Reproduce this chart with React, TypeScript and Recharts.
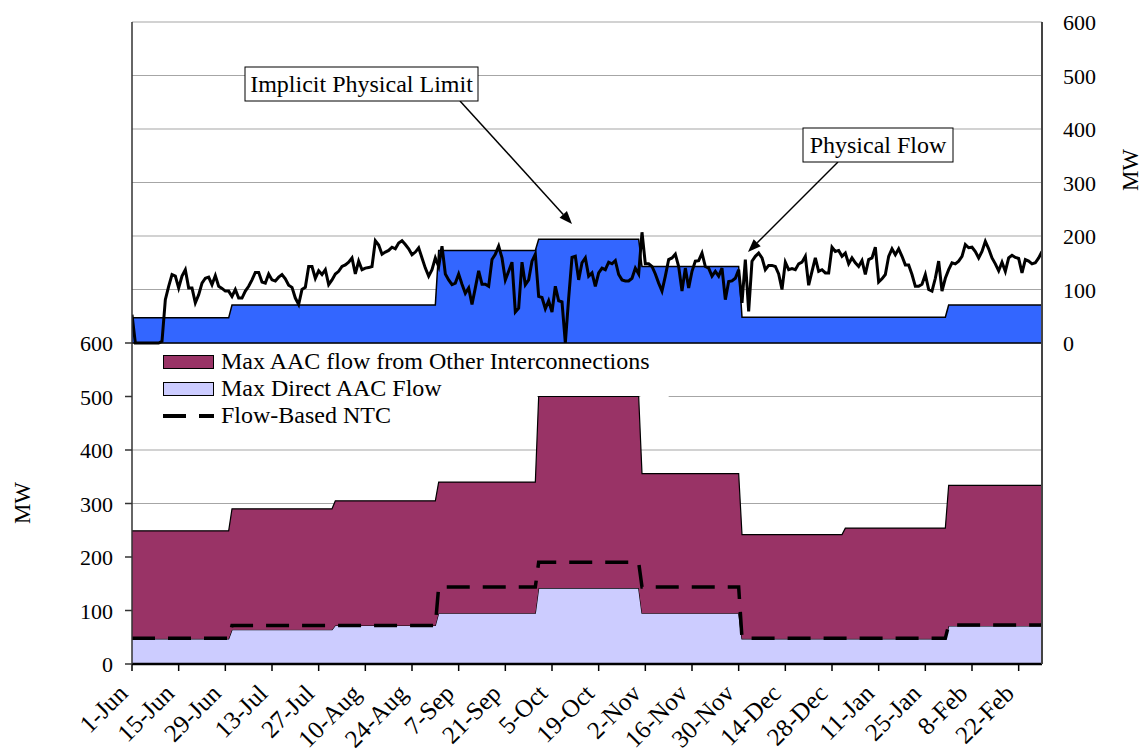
import React from "react";
import {
  ComposedChart,
  Area,
  Line,
  XAxis,
  YAxis,
  CartesianGrid,
  ReferenceLine,
  ReferenceArea,
} from "recharts";

const FONT = '"Liberation Serif", "Times New Roman", serif';

// x axis: days counted from 1-Jun, a label every two weeks
const tickLabels = [
  "1-Jun", "15-Jun", "29-Jun", "13-Jul", "27-Jul", "10-Aug", "24-Aug",
  "7-Sep", "21-Sep", "5-Oct", "19-Oct", "2-Nov", "16-Nov", "30-Nov",
  "14-Dec", "28-Dec", "11-Jan", "25-Jan", "8-Feb", "22-Feb",
];
const xTicks = tickLabels.map((_, i) => i * 14);

// monthly values (Jun .. Feb), first day of each month as day offset
const monthStarts = [0, 30, 61, 92, 122, 153, 183, 214, 245];
const implicitLimit = [47, 71, 71, 173, 194, 143, 48, 48, 71];
const directAac = [47, 64, 72, 95, 142, 95, 47, 47, 71];
const otherAac = [202, 226, 233, 245, 358, 261, 195, 207, 263];
const flowBasedNtc = [48, 72, 72, 144, 190, 144, 48, 48, 73];

// daily physical flow, 1-Jun .. 1-Mar
const physicalFlow = [
  53, 0, 0, 0, 0, 0, 0, 0, 0, 3,
  81, 106, 128, 125, 103, 125, 137, 103, 103, 75,
  90, 112, 121, 123, 109, 126, 106, 102, 97, 97,
  87, 100, 84, 84, 97, 106, 118, 132, 132, 114,
  112, 129, 118, 116, 123, 128, 120, 108, 104, 84,
  72, 100, 104, 143, 143, 121, 135, 128, 137, 109,
  118, 129, 134, 143, 146, 151, 159, 129, 153, 137,
  140, 141, 143, 191, 183, 166, 170, 173, 179, 176,
  187, 191, 184, 176, 165, 170, 178, 159, 140, 125,
  137, 159, 143, 181, 129, 118, 109, 112, 129, 110,
  93, 103, 72, 103, 135, 110, 110, 106, 156, 166,
  181, 159, 118, 134, 151, 58, 65, 151, 109, 118,
  153, 166, 87, 85, 64, 79, 58, 106, 79, 77,
  0, 84, 160, 162, 118, 150, 159, 125, 131, 106,
  131, 140, 137, 151, 148, 154, 128, 118, 116, 116,
  121, 140, 129, 207, 148, 148, 143, 129, 112, 97,
  125, 156, 159, 166, 143, 97, 140, 103, 134, 153,
  154, 168, 143, 140, 125, 134, 125, 140, 81, 115,
  116, 121, 137, 75, 156, 59, 153, 162, 168, 159,
  137, 145, 145, 143, 129, 100, 151, 137, 139, 137,
  148, 151, 162, 108, 134, 159, 134, 137, 131, 131,
  179, 171, 173, 162, 168, 148, 159, 150, 143, 154,
  128, 156, 159, 179, 114, 120, 128, 162, 176, 165,
  176, 162, 146, 146, 128, 106, 106, 110, 128, 100,
  97, 121, 153, 97, 121, 137, 150, 148, 153, 162,
  184, 178, 179, 171, 159, 171, 190, 176, 159, 148,
  135, 151, 134, 159, 164, 160, 158, 131, 156, 153,
  148, 150, 159, 171,
];

const seriesNames = [
  "Max AAC flow from Other Interconnections",
  "Max Direct AAC Flow",
  "Flow-Based NTC",
];

const mwTicks = [0, 100, 200, 300, 400, 500, 600];
const gridTicks = [...mwTicks, ...mwTicks.slice(1).map((v) => v + 600)];

const monthOf = (day: number) => {
  let m = 0;
  monthStarts.forEach((s, i) => {
    if (day >= s) m = i;
  });
  return m;
};

const data = physicalFlow.map((flow, day) => {
  const m = monthOf(day);
  return {
    day,
    flow,
    limit: implicitLimit[m],
    direct: directAac[m],
    other: otherAac[m],
    ntc: flowBasedNtc[m],
  };
});

function LeftTick(props: any) {
  const { x, y, payload } = props;
  if (payload.value > 600) return null;
  return (
    <g>
      <line x1={x + 12} x2={x + 19} y1={y} y2={y} stroke="#333" strokeWidth={1.5} />
      <text x={x} y={y} dy={8} textAnchor="end" fontSize={22} fontFamily={FONT} fill="#000">
        {payload.value}
      </text>
    </g>
  );
}

function RightTick(props: any) {
  const { x, y, payload } = props;
  return (
    <text x={x} y={y} dy={8} textAnchor="start" fontSize={22} fontFamily={FONT} fill="#000">
      {payload.value}
    </text>
  );
}

function DateTick(props: any) {
  const { x, y, index } = props;
  const ax = x - 3;
  const ay = y + 20;
  return (
    <text
      x={ax}
      y={ay}
      transform={`rotate(-45 ${ax} ${ay})`}
      textAnchor="end"
      fontSize={25}
      fontFamily={FONT}
      fill="#000"
    >
      {tickLabels[index]}
    </text>
  );
}

function Arrow({ x1, y1, x2, y2 }: { x1: number; y1: number; x2: number; y2: number }) {
  const len = Math.hypot(x2 - x1, y2 - y1);
  const ux = (x2 - x1) / len;
  const uy = (y2 - y1) / len;
  const bx = x2 - ux * 13;
  const by = y2 - uy * 13;
  const px = -uy * 5;
  const py = ux * 5;
  return (
    <g>
      <line x1={x1} y1={y1} x2={bx} y2={by} stroke="#000" strokeWidth={1.5} />
      <polygon points={`${x2},${y2} ${bx + px},${by + py} ${bx - px},${by - py}`} fill="#000" />
    </g>
  );
}

function Callout({ x, y, w, h, text }: { x: number; y: number; w: number; h: number; text: string }) {
  return (
    <g>
      <rect x={x} y={y} width={w} height={h} fill="#fff" stroke="#000" strokeWidth={1} />
      <text x={x + w / 2} y={y + h / 2 + 8} textAnchor="middle" fontSize={24} fontFamily={FONT}>
        {text}
      </text>
    </g>
  );
}

export default function App() {
  return (
    <div style={{ position: "absolute", left: 0, top: 0, width: 1143, height: 752, fontFamily: FONT, background: "#fff" }}>
      <ComposedChart
        width={1143}
        height={752}
        data={data}
        margin={{ top: 22, right: 0, bottom: 0, left: 0 }}
      >
        <CartesianGrid vertical={false} stroke="#a6a6a6" strokeWidth={1.2} />
        <XAxis
          dataKey="day"
          type="number"
          domain={[0, 273]}
          ticks={xTicks}
          interval={0}
          height={88}
          tickSize={7}
          tickMargin={4}
          axisLine={{ stroke: "#000", strokeWidth: 2.5 }}
          tickLine={{ stroke: "#000", strokeWidth: 1.5 }}
          tick={<DateTick />}
          allowDataOverflow
        />
        <YAxis
          domain={[0, 1200]}
          ticks={gridTicks}
          interval={0}
          width={132}
          tickSize={7}
          tickMargin={12}
          tickLine={false}
          axisLine={{ stroke: "#333", strokeWidth: 1.5 }}
          tick={<LeftTick />}
          allowDataOverflow
        />
        <YAxis
          yAxisId="right"
          orientation="right"
          domain={[-600, 600]}
          ticks={mwTicks}
          interval={0}
          width={101}
          tickSize={0}
          tickMargin={21}
          tickLine={false}
          axisLine={{ stroke: "#444", strokeWidth: 2 }}
          tick={<RightTick />}
          allowDataOverflow
        />

        {/* keep the legend area free of the 500 gridline */}
        <ReferenceArea x1={0} x2={121.5} y1={470} y2={530} fill="#fff" fillOpacity={1} stroke="none" />
        <ReferenceArea x1={152.5} x2={161} y1={470} y2={530} fill="#fff" fillOpacity={1} stroke="none" />

        {/* top panel */}
        <Area
          yAxisId="right"
          dataKey="limit"
          name="Implicit Physical Limit"
          type="linear"
          baseValue={0}
          fill="#3366ff"
          fillOpacity={1}
          stroke="#000"
          strokeWidth={1.5}
          isAnimationActive={false}
        />
        <Line
          yAxisId="right"
          dataKey="flow"
          name="Physical Flow"
          type="linear"
          stroke="#000"
          strokeWidth={3}
          dot={false}
          isAnimationActive={false}
        />
        <ReferenceLine yAxisId="right" y={0} stroke="#000" strokeWidth={1.5} />

        {/* bottom panel */}
        <Area
          dataKey="direct"
          name={seriesNames[1]}
          stackId="aac"
          type="linear"
          fill="#ccccff"
          fillOpacity={1}
          stroke="#000"
          strokeWidth={1.2}
          isAnimationActive={false}
        />
        <Area
          dataKey="other"
          name={seriesNames[0]}
          stackId="aac"
          type="linear"
          fill="#993366"
          fillOpacity={1}
          stroke="#000"
          strokeWidth={1.2}
          isAnimationActive={false}
        />
        <Line
          dataKey="ntc"
          name={seriesNames[2]}
          type="linear"
          stroke="#000"
          strokeWidth={3.5}
          strokeDasharray="23 13"
          dot={false}
          isAnimationActive={false}
        />
      </ComposedChart>

      {/* legend */}
      <div style={{ position: "absolute", left: 163, top: 348, fontSize: 24, lineHeight: "27px", color: "#000" }}>
        {seriesNames.map((name, i) => (
          <div key={name} style={{ display: "flex", alignItems: "center", height: 27 }}>
            {i < 2 ? (
              <span
                style={{
                  display: "inline-block",
                  width: 51,
                  height: 14,
                  background: i === 0 ? "#993366" : "#ccccff",
                  border: "1.5px solid #000",
                  boxSizing: "border-box",
                }}
              />
            ) : (
              <svg width={51} height={14}>
                <line x1={0} x2={51} y1={7} y2={7} stroke="#000" strokeWidth={4} strokeDasharray="23 13" />
              </svg>
            )}
            <span style={{ marginLeft: 7 }}>{name}</span>
          </div>
        ))}
      </div>

      {/* callouts and axis titles */}
      <svg width={1143} height={752} style={{ position: "absolute", left: 0, top: 0, pointerEvents: "none" }}>
        <Arrow x1={460} y1={101} x2={572} y2={224} />
        <Arrow x1={838} y1={162} x2={748} y2={252} />
        <Callout x={245} y={67} w={233} h={34} text="Implicit Physical Limit" />
        <Callout x={803} y={128} w={150} h={34} text="Physical Flow" />
        <text x={30} y={503} transform="rotate(-90 30 503)" textAnchor="middle" fontSize={23} fontFamily={FONT}>
          MW
        </text>
        <text x={1138} y={170} transform="rotate(-90 1138 170)" textAnchor="middle" fontSize={23} fontFamily={FONT}>
          MW
        </text>
      </svg>
    </div>
  );
}
